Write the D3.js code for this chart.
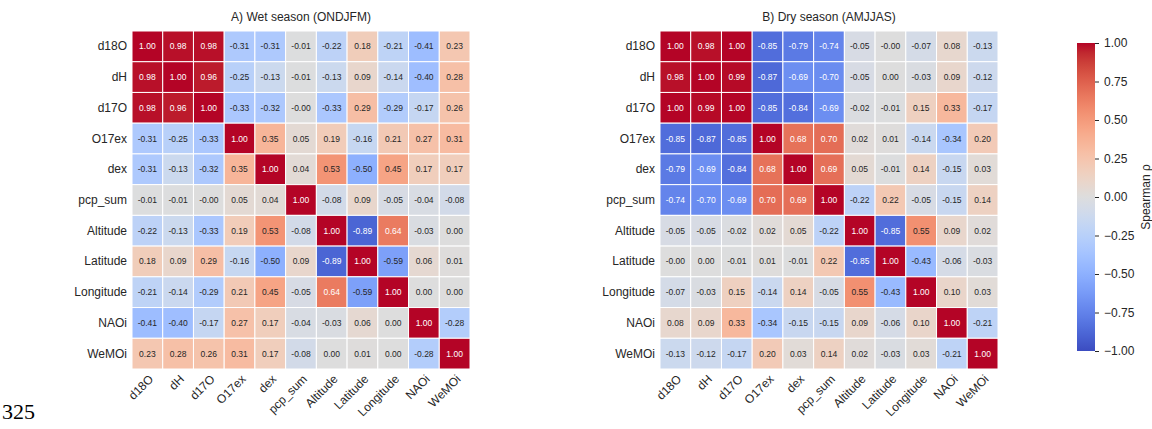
<!DOCTYPE html>
<html>
<head>
<meta charset="utf-8">
<script src="https://cdn.jsdelivr.net/npm/d3@7"></script>
<style>
  html, body { margin: 0; padding: 0; background: #fff; }
  svg { display: block; font-family: "Liberation Sans", Arial, sans-serif; }
</style>
</head>
<body>
<svg id="chart" width="1152" height="429"></svg>
<script>
// Variables shown on both axes
const variables = ["d18O", "dH", "d17O", "O17ex", "dex", "pcp_sum", "Altitude", "Latitude", "Longitude", "NAOi", "WeMOi"];

// Spearman correlations, wet season (ONDJFM)
const wetRho = [
  [ 1.00,  0.98,  0.98, -0.31, -0.31, -0.01, -0.22,  0.18, -0.21, -0.41,  0.23],
  [ 0.98,  1.00,  0.96, -0.25, -0.13, -0.01, -0.13,  0.09, -0.14, -0.40,  0.28],
  [ 0.98,  0.96,  1.00, -0.33, -0.32, -0.00, -0.33,  0.29, -0.29, -0.17,  0.26],
  [-0.31, -0.25, -0.33,  1.00,  0.35,  0.05,  0.19, -0.16,  0.21,  0.27,  0.31],
  [-0.31, -0.13, -0.32,  0.35,  1.00,  0.04,  0.53, -0.50,  0.45,  0.17,  0.17],
  [-0.01, -0.01, -0.00,  0.05,  0.04,  1.00, -0.08,  0.09, -0.05, -0.04, -0.08],
  [-0.22, -0.13, -0.33,  0.19,  0.53, -0.08,  1.00, -0.89,  0.64, -0.03,  0.00],
  [ 0.18,  0.09,  0.29, -0.16, -0.50,  0.09, -0.89,  1.00, -0.59,  0.06,  0.01],
  [-0.21, -0.14, -0.29,  0.21,  0.45, -0.05,  0.64, -0.59,  1.00,  0.00,  0.00],
  [-0.41, -0.40, -0.17,  0.27,  0.17, -0.04, -0.03,  0.06,  0.00,  1.00, -0.28],
  [ 0.23,  0.28,  0.26,  0.31,  0.17, -0.08,  0.00,  0.01,  0.00, -0.28,  1.00]
];

// Spearman correlations, dry season (AMJJAS)
const dryRho = [
  [ 1.00,  0.98,  1.00, -0.85, -0.79, -0.74, -0.05, -0.00, -0.07,  0.08, -0.13],
  [ 0.98,  1.00,  0.99, -0.87, -0.69, -0.70, -0.05,  0.00, -0.03,  0.09, -0.12],
  [ 1.00,  0.99,  1.00, -0.85, -0.84, -0.69, -0.02, -0.01,  0.15,  0.33, -0.17],
  [-0.85, -0.87, -0.85,  1.00,  0.68,  0.70,  0.02,  0.01, -0.14, -0.34,  0.20],
  [-0.79, -0.69, -0.84,  0.68,  1.00,  0.69,  0.05, -0.01,  0.14, -0.15,  0.03],
  [-0.74, -0.70, -0.69,  0.70,  0.69,  1.00, -0.22,  0.22, -0.05, -0.15,  0.14],
  [-0.05, -0.05, -0.02,  0.02,  0.05, -0.22,  1.00, -0.85,  0.55,  0.09,  0.02],
  [-0.00,  0.00, -0.01,  0.01, -0.01,  0.22, -0.85,  1.00, -0.43, -0.06, -0.03],
  [-0.07, -0.03,  0.15, -0.14,  0.14, -0.05,  0.55, -0.43,  1.00,  0.10,  0.03],
  [ 0.08,  0.09,  0.33, -0.34, -0.15, -0.15,  0.09, -0.06,  0.10,  1.00, -0.21],
  [-0.13, -0.12, -0.17,  0.20,  0.03,  0.14,  0.02, -0.03,  0.03, -0.21,  1.00]
];

const panelTitles = ["A) Wet season (ONDJFM)", "B) Dry season (AMJJAS)"];
const colorbarTicks = [1.00, 0.75, 0.50, 0.25, 0.00, -0.25, -0.50, -0.75, -1.00];
const colorbarLabel = "Spearman ρ";
const pageNumber = "325";

// Diverging "coolwarm" palette, sampled evenly from -1 to 1
const coolwarmStops = [
  [59,76,192],[68,90,204],[77,104,215],[87,117,225],[98,130,234],[108,142,241],
  [119,154,247],[130,165,251],[141,176,254],[152,185,255],[163,194,255],[174,201,253],
  [184,208,249],[194,213,244],[204,217,238],[213,219,230],[221,221,221],[229,216,209],
  [236,211,197],[241,204,185],[245,196,173],[247,187,160],[247,177,148],[247,166,135],
  [244,154,123],[241,141,111],[236,127,99],[229,112,88],[222,96,77],[213,80,66],
  [203,62,56],[192,40,47],[180,4,38]
].map(c => d3.rgb(c[0], c[1], c[2]));

const coolwarm = d3.scaleLinear()
  .domain(d3.range(coolwarmStops.length).map(i => -1 + 2 * i / (coolwarmStops.length - 1)))
  .range(coolwarmStops)
  .interpolate(d3.interpolateRgb)
  .clamp(true);

function fmt(v) {
  const neg = v < 0 || Object.is(v, -0);
  return (neg ? "-" : "") + Math.abs(v).toFixed(2);
}

// Relative luminance, used to pick white or dark annotation text
function luminance(c) {
  const ch = [c.r, c.g, c.b].map(x => {
    x = x / 255;
    return x <= 0.03928 ? x / 12.92 : Math.pow((x + 0.055) / 1.055, 2.4);
  });
  return 0.2126 * ch[0] + 0.7152 * ch[1] + 0.0722 * ch[2];
}

const svg = d3.select("#chart");
const textColor = "#262626";

const panels = [
  { data: wetRho, x0: 132, title: panelTitles[0] },
  { data: dryRho, x0: 660, title: panelTitles[1] }
];
const gridTop = 31, gridSize = 338;

panels.forEach(p => {
  const x = d3.scaleBand().domain(variables).range([p.x0, p.x0 + gridSize]);
  const y = d3.scaleBand().domain(variables).range([gridTop, gridTop + gridSize]);
  const g = svg.append("g");

  const cells = [];
  p.data.forEach((row, i) => row.forEach((v, j) => cells.push({ r: variables[i], c: variables[j], v })));

  g.selectAll("rect.cell").data(cells).join("rect")
    .attr("class", "cell")
    .attr("x", d => x(d.c))
    .attr("y", d => y(d.r))
    .attr("width", x.bandwidth())
    .attr("height", y.bandwidth())
    .attr("fill", d => coolwarm(d.v))
    .attr("stroke", "#fff")
    .attr("stroke-width", 1);

  g.selectAll("text.val").data(cells).join("text")
    .attr("class", "val")
    .attr("x", d => x(d.c) + x.bandwidth() / 2)
    .attr("y", d => y(d.r) + y.bandwidth() / 2)
    .attr("text-anchor", "middle")
    .attr("dominant-baseline", "central")
    .attr("font-size", 8.5)
    .attr("fill", d => luminance(d3.rgb(coolwarm(d.v))) < 0.345 ? "#fff" : textColor)
    .text(d => fmt(d.v));

  // Row labels
  g.selectAll("text.ylab").data(variables).join("text")
    .attr("class", "ylab")
    .attr("x", p.x0 - 5)
    .attr("y", d => y(d) + y.bandwidth() / 2)
    .attr("text-anchor", "end")
    .attr("dominant-baseline", "central")
    .attr("font-size", 12)
    .attr("fill", textColor)
    .text(d => d);

  // Column labels, rotated 45 degrees
  g.selectAll("text.xlab").data(variables).join("text")
    .attr("class", "xlab")
    .attr("transform", d => `translate(${x(d) + x.bandwidth() / 2 + 4},${gridTop + gridSize + 8}) rotate(-45)`)
    .attr("text-anchor", "end")
    .attr("dominant-baseline", "central")
    .attr("font-size", 12)
    .attr("fill", textColor)
    .text(d => d);

  g.append("text")
    .attr("x", p.x0 + gridSize / 2)
    .attr("y", gridTop - 10)
    .attr("text-anchor", "middle")
    .attr("font-size", 12)
    .attr("fill", textColor)
    .text(p.title);
});

// Colour bar
const cbX = 1077, cbW = 18, cbTop = 43, cbBottom = 351;
const cbScale = d3.scaleLinear().domain([-1, 1]).range([cbBottom, cbTop]);
const defs = svg.append("defs");
const grad = defs.append("linearGradient").attr("id", "cbGrad")
  .attr("x1", 0).attr("y1", 1).attr("x2", 0).attr("y2", 0);
d3.range(0, 1.0001, 1 / 64).forEach(t => {
  grad.append("stop").attr("offset", t).attr("stop-color", coolwarm(-1 + 2 * t));
});
svg.append("rect")
  .attr("x", cbX).attr("y", cbTop).attr("width", cbW).attr("height", cbBottom - cbTop)
  .attr("fill", "url(#cbGrad)");

const cbAxis = d3.axisRight(cbScale)
  .tickValues(colorbarTicks)
  .tickSize(4)
  .tickPadding(5)
  .tickFormat(v => (v < 0 ? "\u2212" : "") + Math.abs(v).toFixed(2));
const cbG = svg.append("g").attr("transform", `translate(${cbX + cbW},0)`).call(cbAxis);
cbG.select(".domain").remove();
cbG.selectAll(".tick line").attr("stroke", textColor).attr("stroke-width", 1);
cbG.selectAll(".tick text").attr("font-size", 12).attr("fill", textColor)
  .attr("font-family", "'Liberation Sans', Arial, sans-serif");

svg.append("text")
  .attr("transform", `translate(1150,${(cbTop + cbBottom) / 2}) rotate(-90)`)
  .attr("text-anchor", "middle")
  .attr("font-size", 12)
  .attr("fill", textColor)
  .text(colorbarLabel);

// Page number
svg.append("text")
  .attr("x", 2)
  .attr("y", 419)
  .attr("font-family", "'Liberation Serif', 'Times New Roman', serif")
  .attr("font-size", 22)
  .attr("fill", "#000")
  .text(pageNumber);
</script>
</body>
</html>
